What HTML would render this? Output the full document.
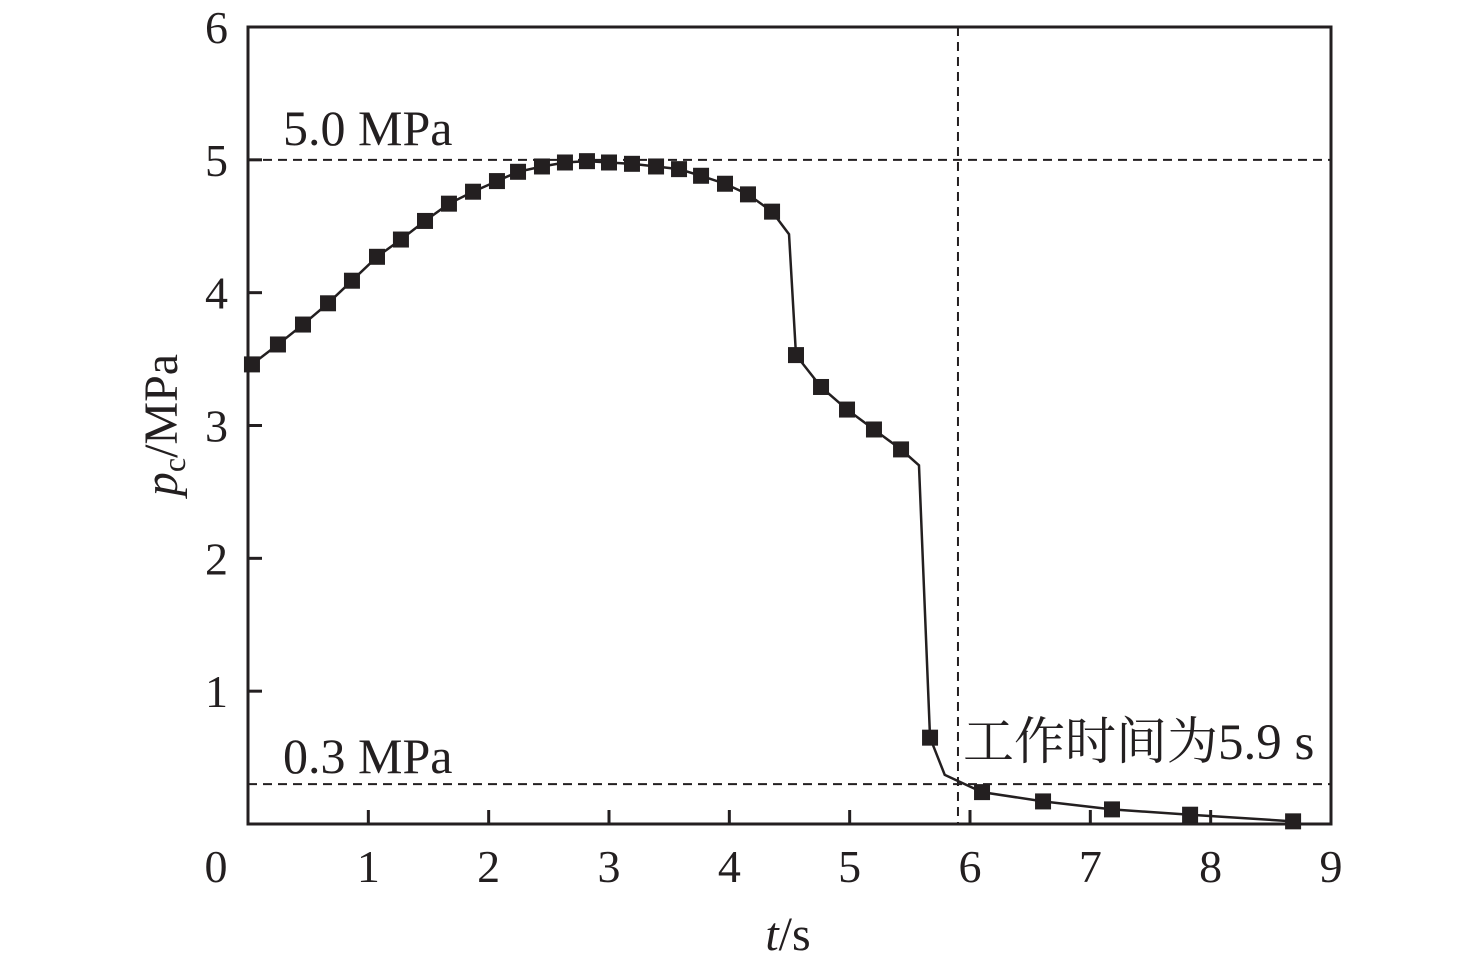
<!DOCTYPE html>
<html><head><meta charset="utf-8">
<style>
html,body{margin:0;padding:0;background:#fff;}
svg text{font-family:"Liberation Serif","Noto Serif CJK SC",serif;fill:#231f20;}
</style></head>
<body>
<svg id="chart" width="1476" height="965" viewBox="0 0 1476 965" xmlns="http://www.w3.org/2000/svg">
<g id="grid"></g>
</svg>
<script>
const times = [0.033,0.249,0.457,0.665,0.864,1.072,1.271,1.471,1.670,1.870,2.069,2.244,2.443,2.634,2.817,3.000,3.191,3.391,3.582,3.765,3.964,4.155,4.355,4.496,4.554,4.762,4.978,5.202,5.427,5.576,5.668,5.79,6.100,6.607,7.180,7.829,8.685];
const pressures = [3.46,3.61,3.76,3.92,4.09,4.27,4.40,4.54,4.67,4.76,4.84,4.91,4.95,4.98,4.99,4.98,4.97,4.95,4.93,4.88,4.82,4.74,4.61,4.44,3.53,3.29,3.12,2.97,2.82,2.70,0.65,0.37,0.24,0.17,0.11,0.07,0.02];
const hasMarker = [1,1,1,1,1,1,1,1,1,1,1,1,1,1,1,1,1,1,1,1,1,1,1,0,1,1,1,1,1,0,1,0,1,1,1,1,1];
const xTicks = [0,1,2,3,4,5,6,7,8,9];
const yTicks = [1,2,3,4,5,6];
const refPressures = [5.0,0.3];
const refTime = [5.9];

const L=248,R=1331,T=27,B=824;
const xs=t=>L+(t-0)/(9-0)*(R-L);
const ys=p=>B-(p-0)/(6-0)*(B-T);
const svg=document.getElementById('chart');
const NS='http://www.w3.org/2000/svg';
function mk(tag,attrs){const e=document.createElementNS(NS,tag);for(const k in attrs)e.setAttribute(k,attrs[k]);svg.appendChild(e);return e;}

refPressures.forEach((p,i)=>{
  const e=mk('line',{x1:L,x2:R,y1:ys(p),y2:ys(p),stroke:'#231f20','stroke-width':2,'stroke-dasharray':'9,6'});
  
  
});
refTime.forEach(t=>{
  const e=mk('line',{x1:xs(t),x2:xs(t),y1:T,y2:B,stroke:'#231f20','stroke-width':2,'stroke-dasharray':'9,6'});
  
  
});

const frame=mk('rect',{x:L,y:T,width:R-L,height:B-T,fill:'none',stroke:'#231f20','stroke-width':3});



xTicks.forEach(v=>{
  if(v>0&&v<9){const tk=mk('line',{x1:xs(v),x2:xs(v),y1:B,y2:B-14,stroke:'#231f20','stroke-width':3});
  
  }
  const tx=mk('text',{x:v===0?xs(v)-32:xs(v),y:882,'font-size':46,'text-anchor':'middle'});
  tx.textContent=v;
  
  
});
yTicks.forEach(v=>{
  if(v<6){const tk=mk('line',{x1:L,x2:L+14,y1:ys(v),y2:ys(v),stroke:'#231f20','stroke-width':3});
  
  }
  const tx=mk('text',{x:228,y:ys(v)+16,'font-size':46,'text-anchor':'end'});
  tx.textContent=v;
  
  
});

const pts=times.map((t,i)=>xs(t)+','+ys(pressures[i])).join(' ');
const pl=mk('polyline',{points:pts,fill:'none',stroke:'#231f20','stroke-width':2.5});


times.forEach((t,i)=>{
  if(!hasMarker[i])return;
  const m=mk('rect',{x:xs(t)-8,y:ys(pressures[i])-8,width:16,height:16,fill:'#231f20'});
  
  
});

function label(x,y,size,txt,name,anchor){const e=mk('text',{x:x,y:y,'font-size':size,'text-anchor':anchor||'start'});e.textContent=txt;

return e;}
label(283,145,50,'5.0 MPa','annotation-5mpa');
label(283,773,50,'0.3 MPa','annotation-0-3mpa');
label(963,759,51,'工作时间为5.9 s','annotation-work-time');

const xt=mk('text',{x:788,y:950,'font-size':48,'text-anchor':'middle'});
xt.innerHTML='<tspan font-style="italic">t</tspan>/s';


const yt=mk('text',{x:0,y:0,'font-size':48,'text-anchor':'middle',transform:'translate(177,425) rotate(-90)'});
yt.innerHTML='<tspan font-style="italic">p</tspan><tspan font-size="32" dy="8">c</tspan><tspan dy="-8">/MPa</tspan>';


</script>
</body></html>
